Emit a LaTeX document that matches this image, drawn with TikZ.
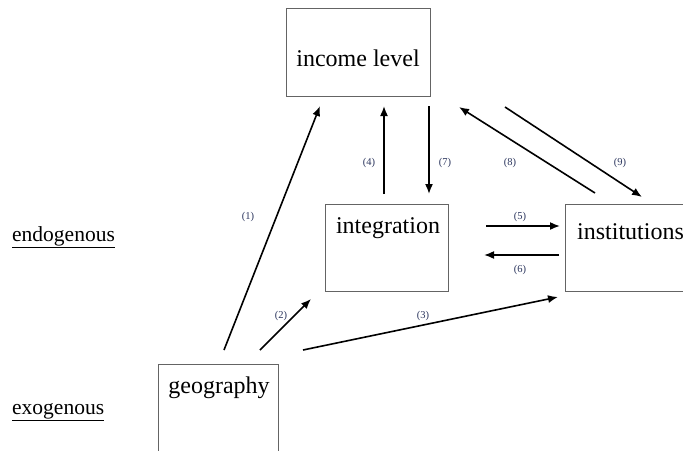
\documentclass[tikz,border=0pt]{standalone}
\usepackage{fontspec}
\setmainfont{Liberation Serif}
\usetikzlibrary{arrows.meta}
\definecolor{lbl}{RGB}{45,55,95}
\definecolor{boxc}{RGB}{100,100,100}
\tikzset{
  box/.style={draw=boxc, line width=0.9pt, inner sep=0pt},
  big/.style={font=\fontsize{24}{28}\selectfont, inner sep=0pt},
  side/.style={font=\fontsize{21.5}{26}\selectfont, inner sep=0pt, anchor=west},
  lab/.style={font=\fontsize{10.5}{12}\selectfont, text=lbl, inner sep=0pt},
  arr/.style={line width=1.6pt, -{Latex[length=10pt,width=8pt]}}
}
\begin{document}
\begin{tikzpicture}[x=1pt,y=-1pt]
\useasboundingbox (0,0) rectangle (683,450);
\clip (0,0) rectangle (683,450);
\fill[white] (0,0) rectangle (683,450);
% boxes
\draw[box] (286,8) rectangle (430,96);
\draw[box] (325,204) rectangle (448,291);
\draw[box] (565,204) rectangle (700,291);
\draw[box] (158,364) rectangle (278,470);
\node[big] (inc) at (358,58) {income level};
\node[big] (int) at (388,228) {integration};
\node[big, anchor=west] (ins) at (577,232) {institutions};
\node[big] (geo) at (219,388) {geography};
\node[side] (endo) at (12,237) {\underline{endogenous}};
\node[side] (exo) at (12,412) {\underline{exogenous}};
% arrow endpoints
\coordinate (a1s) at (224,350); \coordinate (a1e) at (320,106);
\coordinate (a2s) at (260,350); \coordinate (a2e) at (311,299);
\coordinate (a3s) at (303,350); \coordinate (a3e) at (558,297);
\coordinate (a4s) at (384,194); \coordinate (a4e) at (384,106);
\coordinate (a7s) at (429,106); \coordinate (a7e) at (429,194);
\coordinate (a8s) at (595,193); \coordinate (a8e) at (459,107);
\coordinate (a9s) at (505,107); \coordinate (a9e) at (642,197);
\coordinate (a5s) at (486,226); \coordinate (a5e) at (560,226);
\coordinate (a6s) at (559,255); \coordinate (a6e) at (484,255);
\draw[arr] (a1s) -- (a1e);
\draw[arr] (a2s) -- (a2e);
\draw[arr] (a3s) -- (a3e);
\draw[arr] (a4s) -- (a4e);
\draw[arr] (a7s) -- (a7e);
\draw[arr] (a8s) -- (a8e);
\draw[arr] (a9s) -- (a9e);
\draw[arr] (a5s) -- (a5e);
\draw[arr] (a6s) -- (a6e);
% labels
\node[lab] (l1) at (248,217) {(1)};
\node[lab] (l2) at (281,316) {(2)};
\node[lab] (l3) at (423,316) {(3)};
\node[lab] (l4) at (369,163) {(4)};
\node[lab] (l7) at (445,163) {(7)};
\node[lab] (l8) at (510,163) {(8)};
\node[lab] (l9) at (620,163) {(9)};
\node[lab] (l5) at (520,217) {(5)};
\node[lab] (l6) at (520,270) {(6)};
\end{tikzpicture}
\end{document}
